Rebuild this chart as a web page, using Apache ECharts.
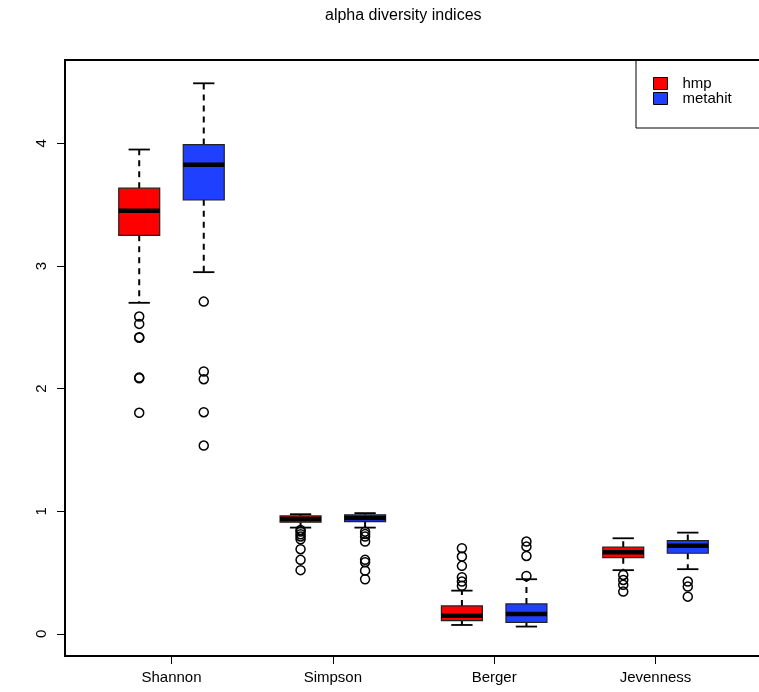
<!DOCTYPE html>
<html><head><meta charset="utf-8">
<script src="https://cdn.jsdelivr.net/npm/echarts@6/dist/echarts.min.js"></script>
<style>html,body{margin:0;padding:0;background:#fff}#c{width:759px;height:692px}</style>
</head><body><div id="c"></div>
<script>
const titleText = 'alpha diversity indices';
const categories = ['Shannon', 'Simpson', 'Berger', 'Jevenness'];
const groups = ['hmp', 'metahit'];
const yTicks = [0, 1, 2, 3, 4];
// [lower whisker, Q1, median, Q3, upper whisker]
const hmpStats = [
  [2.70, 3.25, 3.45, 3.635, 3.95],
  [0.867, 0.911, 0.938, 0.962, 0.976],
  [0.073, 0.108, 0.149, 0.228, 0.353],
  [0.52, 0.622, 0.666, 0.707, 0.78]
];
const metahitStats = [
  [2.95, 3.54, 3.825, 3.99, 4.49],
  [0.867, 0.916, 0.945, 0.971, 0.985],
  [0.06, 0.095, 0.163, 0.245, 0.446],
  [0.528, 0.658, 0.718, 0.761, 0.826]
];
const hmpOutliers = [
  [2.588, 2.528, 2.42, 2.415, 2.09, 2.085, 1.803],
  [0.848, 0.835, 0.813, 0.795, 0.772, 0.691, 0.604, 0.52],
  [0.699, 0.631, 0.555, 0.462, 0.427, 0.392],
  [0.481, 0.44, 0.40, 0.345]
];
const metahitOutliers = [
  [2.71, 2.14, 2.077, 1.808, 1.536],
  [0.834, 0.814, 0.794, 0.753, 0.604, 0.585, 0.516, 0.446],
  [0.753, 0.712, 0.636, 0.473],
  [0.427, 0.386, 0.304]
];

const FONT = "'Liberation Sans', Arial, Helvetica, sans-serif";
const groupColors = ['#ff0000', '#1f41ff'];
const groupOffset = [-0.2, 0.2];
const statsByGroup = [hmpStats, metahitStats];
const outliersByGroup = [hmpOutliers, metahitOutliers];

function renderBox(params, api) {
  const x = api.value(0);
  const low = api.value(1), q1 = api.value(2), med = api.value(3), q3 = api.value(4), high = api.value(5);
  const hw = 0.127, cw = 0.066;
  const tl = api.coord([x - hw, q3]);
  const br = api.coord([x + hw, q1]);
  const cMed = api.coord([x, med]);
  const cHigh = api.coord([x, high]);
  const cLow = api.coord([x, low]);
  const capL = api.coord([x - cw, high])[0];
  const capR = api.coord([x + cw, high])[0];
  const color = api.visual('color');
  const dash = {stroke: '#000', lineWidth: 2, lineDash: [6, 5]};
  const solid = {stroke: '#000', lineWidth: 1.8};
  return {
    type: 'group',
    children: [
      {type: 'line', shape: {x1: cMed[0], y1: tl[1], x2: cMed[0], y2: cHigh[1]}, style: dash},
      {type: 'line', shape: {x1: cMed[0], y1: br[1], x2: cMed[0], y2: cLow[1]}, style: dash},
      {type: 'line', shape: {x1: capL, y1: cHigh[1], x2: capR, y2: cHigh[1]}, style: solid},
      {type: 'line', shape: {x1: capL, y1: cLow[1], x2: capR, y2: cLow[1]}, style: solid},
      {type: 'rect', shape: {x: tl[0], y: tl[1], width: br[0] - tl[0], height: br[1] - tl[1]},
        style: {fill: color, stroke: '#222', lineWidth: 1.2}},
      {type: 'line', shape: {x1: tl[0], y1: cMed[1], x2: br[0], y2: cMed[1]},
        style: {stroke: '#000', lineWidth: 4.5}}
    ]
  };
}

const series = [];
groups.forEach((g, gi) => {
  series.push({
    name: g,
    type: 'custom',
    renderItem: renderBox,
    itemStyle: {color: groupColors[gi], borderColor: '#000', borderWidth: 1},
    encode: {x: 0, y: [1, 2, 3, 4, 5]},
    data: categories.map((c, ci) => [ci + 1 + groupOffset[gi]].concat(statsByGroup[gi][ci])),
    z: 2
  });
});
groups.forEach((g, gi) => {
  const pts = [];
  categories.forEach((c, ci) => {
    outliersByGroup[gi][ci].forEach(v => pts.push([ci + 1 + groupOffset[gi], v]));
  });
  series.push({
    name: g + ' outliers',
    type: 'scatter',
    symbol: 'circle',
    symbolSize: 9,
    itemStyle: {color: 'rgba(255,255,255,0)', borderColor: '#000', borderWidth: 1.5, opacity: 1},
    data: pts,
    z: 3
  });
});

const chart = echarts.init(document.getElementById('c'), null, {renderer: 'canvas'});
chart.setOption({
  animation: false,
  backgroundColor: '#fff',
  textStyle: {fontFamily: FONT},
  title: {
    text: titleText, left: 320, top: 3,
    textStyle: {fontSize: 16, fontWeight: 'normal', color: '#000', fontFamily: FONT}
  },
  legend: {
    data: groups, orient: 'vertical', left: 636, top: 60,
    padding: [16, 90, 22, 17], itemWidth: 14, itemHeight: 12, itemGap: 0,
    borderColor: '#000', borderWidth: 1, icon: 'rect', selectedMode: false,
    itemStyle: {borderColor: '#000', borderWidth: 1},
    textStyle: {fontSize: 15, color: '#000', fontFamily: FONT, lineHeight: 15, padding: [0, 0, 0, 10]}
  },
  grid: {
    left: 65, top: 60, right: -3, bottom: 36, outerBoundsMode: 'none', containLabel: false,
    show: true, borderColor: '#000', borderWidth: 2, backgroundColor: 'transparent'
  },
  xAxis: {
    type: 'value', min: 0.34, max: 4.66,
    axisLine: {show: false, onZero: false}, splitLine: {show: false},
    axisTick: {show: true, inside: false, customValues: [1, 2, 3, 4], length: 8, lineStyle: {color: '#000', width: 1}},
    axisLabel: {
      customValues: [1, 2, 3, 4], margin: 14, fontSize: 15, color: '#000', fontFamily: FONT,
      formatter: v => categories[Math.round(v) - 1]
    }
  },
  yAxis: {
    type: 'value', min: -0.18, max: 4.68,
    axisLine: {show: false, onZero: false}, splitLine: {show: false},
    axisTick: {show: true, inside: false, customValues: yTicks, length: 8, lineStyle: {color: '#000', width: 1}},
    axisLabel: {
      customValues: yTicks, rotate: 90, margin: 16, fontSize: 15, color: '#000', fontFamily: FONT
    }
  },
  series: series
});
</script></body></html>
